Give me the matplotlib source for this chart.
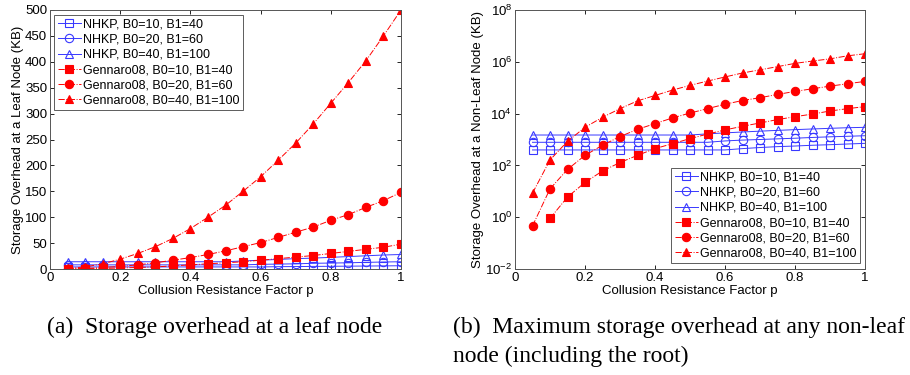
import matplotlib
matplotlib.use("Agg")
import matplotlib.pyplot as plt
import numpy as np

# collusion resistance factor p
p = [0.05, 0.10, 0.15, 0.20, 0.25, 0.30, 0.35, 0.40, 0.45, 0.50,
     0.55, 0.60, 0.65, 0.70, 0.75, 0.80, 0.85, 0.90, 0.95, 1.00]

labels = ["NHKP, B0=10, B1=40", "NHKP, B0=20, B1=60", "NHKP, B0=40, B1=100",
          "Gennaro08, B0=10, B1=40", "Gennaro08, B0=20, B1=60", "Gennaro08, B0=40, B1=100"]

# (a) leaf node storage (KB)
leaf_nhkp_10 = [4, 4, 4, 4, 4, 4, 4, 4, 4, 4, 4, 4, 4.5, 4.7, 5, 5.2, 5.5, 5.7, 6, 6.3]
leaf_nhkp_20 = [8, 8, 8, 8, 8, 8, 8, 8, 8, 8, 8, 9, 9.5, 10, 11, 11.5, 12, 12.8, 13.5, 14]
leaf_nhkp_40 = [14, 14, 14, 14, 14, 14, 14, 14, 14, 14, 15.5, 17, 18.5, 20, 21, 22.5, 24, 25.5, 27, 28]
leaf_gen_10 = [0.1, 0.5, 1, 2, 3, 4, 6, 8, 10, 12, 14, 17, 20, 23, 26, 30, 34, 38, 42, 48]
leaf_gen_20 = [0.3, 1, 3, 5, 8, 12, 17, 22, 28, 35, 43, 51, 61, 71, 81, 94, 105, 119, 132, 148]
leaf_gen_40 = [1, 4, 10, 19, 30, 43, 59, 78, 100, 123, 150, 178, 210, 243, 280, 320, 360, 402, 450, 500]

# (b) max non-leaf node storage (KB), log scale
nl_nhkp_10 = [395, 395, 395, 395, 395, 395, 395, 395, 395, 395, 395, 395,
              445, 490, 530, 560, 600, 630, 670, 710]
nl_nhkp_20 = [780, 780, 780, 780, 780, 780, 780, 780, 780, 780, 780, 880,
              950, 1000, 1060, 1120, 1200, 1270, 1330, 1400]
nl_nhkp_40 = [1490, 1490, 1490, 1490, 1490, 1490, 1490, 1490, 1490, 1490, 1650, 1800,
              1950, 2100, 2250, 2400, 2550, 2700, 2850, 2950]
nl_gen_10 = [np.nan, 0.9, 6, 22, 61, 129, 245, 445, 690, 1080, 1620, 2340,
             3240, 4350, 5870, 7600, 9600, 12600, 15500, 18600]
nl_gen_20 = [0.46, 12.4, 70, 245, 600, 1300, 2470, 4100, 6800, 10500, 15500, 23000,
             32000, 41000, 55000, 72000, 91000, 115000, 142000, 175000]
nl_gen_40 = [8.5, 162, 850, 2950, 7200, 15500, 31000, 50000, 81000, 123000, 180000, 260000,
             370000, 490000, 650000, 870000, 1070000, 1300000, 1700000, 2050000]

plt.rcParams['font.family'] = ['Liberation Sans', 'DejaVu Sans']
plt.rcParams['font.size'] = 9.5

fig = plt.figure(figsize=(9.1, 3.75), dpi=100)
ax1 = fig.add_axes([50/910, 1 - 269/375, 351/910, 259/375])
ax2 = fig.add_axes([515/910, 1 - 269/375, 350/910, 259/375])

blue = '#3838ff'
red = '#ff0000'
styles = [
    dict(color=blue, ls='-', marker='s', mfc='none', mec=blue),
    dict(color=blue, ls='-', marker='o', mfc='none', mec=blue),
    dict(color=blue, ls='-', marker='^', mfc='none', mec=blue),
    dict(color=red, ls='-.', marker='s', mfc=red, mec=red),
    dict(color=red, ls='-.', marker='o', mfc=red, mec=red),
    dict(color=red, ls='-.', marker='^', mfc=red, mec=red),
]

leaf = [leaf_nhkp_10, leaf_nhkp_20, leaf_nhkp_40, leaf_gen_10, leaf_gen_20, leaf_gen_40]
nonleaf = [nl_nhkp_10, nl_nhkp_20, nl_nhkp_40, nl_gen_10, nl_gen_20, nl_gen_40]

for ys, st, lab in zip(leaf, styles, labels):
    ax1.plot(p, ys, label=lab, lw=0.7, ms=6, mew=0.8, **st)
for ys, st, lab in zip(nonleaf, styles, labels):
    ax2.plot(p, ys, label=lab, lw=0.7, ms=6, mew=0.8, **st)

ax1.set_xlim(0, 1)
ax1.set_ylim(0, 500)
ax1.set_yticks(np.arange(0, 501, 50))
ax1.set_xticks([0, 0.2, 0.4, 0.6, 0.8, 1])
ax1.set_xticklabels(['0', '0.2', '0.4', '0.6', '0.8', '1'])
ax1.set_xlabel("Collusion Resistance Factor p", labelpad=1)
ax1.set_ylabel("Storage Overhead at a Leaf Node (KB)", labelpad=1)

ax2.set_yscale('log')
ax2.set_xlim(0, 1)
ax2.set_ylim(1e-2, 1e8)
ax2.set_yticks([1e-2, 1e0, 1e2, 1e4, 1e6, 1e8])
ax2.minorticks_off()
ax2.set_xticks([0, 0.2, 0.4, 0.6, 0.8, 1])
ax2.set_xticklabels(['0', '0.2', '0.4', '0.6', '0.8', '1'])
ax2.set_xlabel("Collusion Resistance Factor p", labelpad=1)
ax2.set_ylabel("Storage Overhead at a Non-Leaf Node (KB)", labelpad=1)

for ax in (ax1, ax2):
    ax.tick_params(direction='in', top=True, right=True, length=3, width=0.6, pad=2)
    for s in ax.spines.values():
        s.set_linewidth(0.7)
        s.set_color('#555555')

leg_kw = dict(fontsize=9, frameon=True, fancybox=False, borderaxespad=0,
              handlelength=1.85, labelspacing=0.25, handletextpad=0.15,
              borderpad=0.3)
l1 = ax1.legend(loc='upper left', bbox_to_anchor=(0.011, 0.981), **leg_kw)
l2 = ax2.legend(loc='lower right', bbox_to_anchor=(0.986, 0.023), **leg_kw)
for lg in (l1, l2):
    lg.get_frame().set_edgecolor('#333333')
    lg.get_frame().set_linewidth(0.7)

cap = dict(family=['Liberation Serif', 'DejaVu Serif'], fontsize=17, va='center', ha='left')
fig.text(47/910, 1 - 327/375, "(a)  Storage overhead at a leaf node", **cap)
fig.text(453/910, 1 - 327/375, "(b)  Maximum storage overhead at any non-leaf", **cap)
fig.text(453/910, 1 - 356/375, "node (including the root)", **cap)

fig.savefig("out.png", dpi=100)
